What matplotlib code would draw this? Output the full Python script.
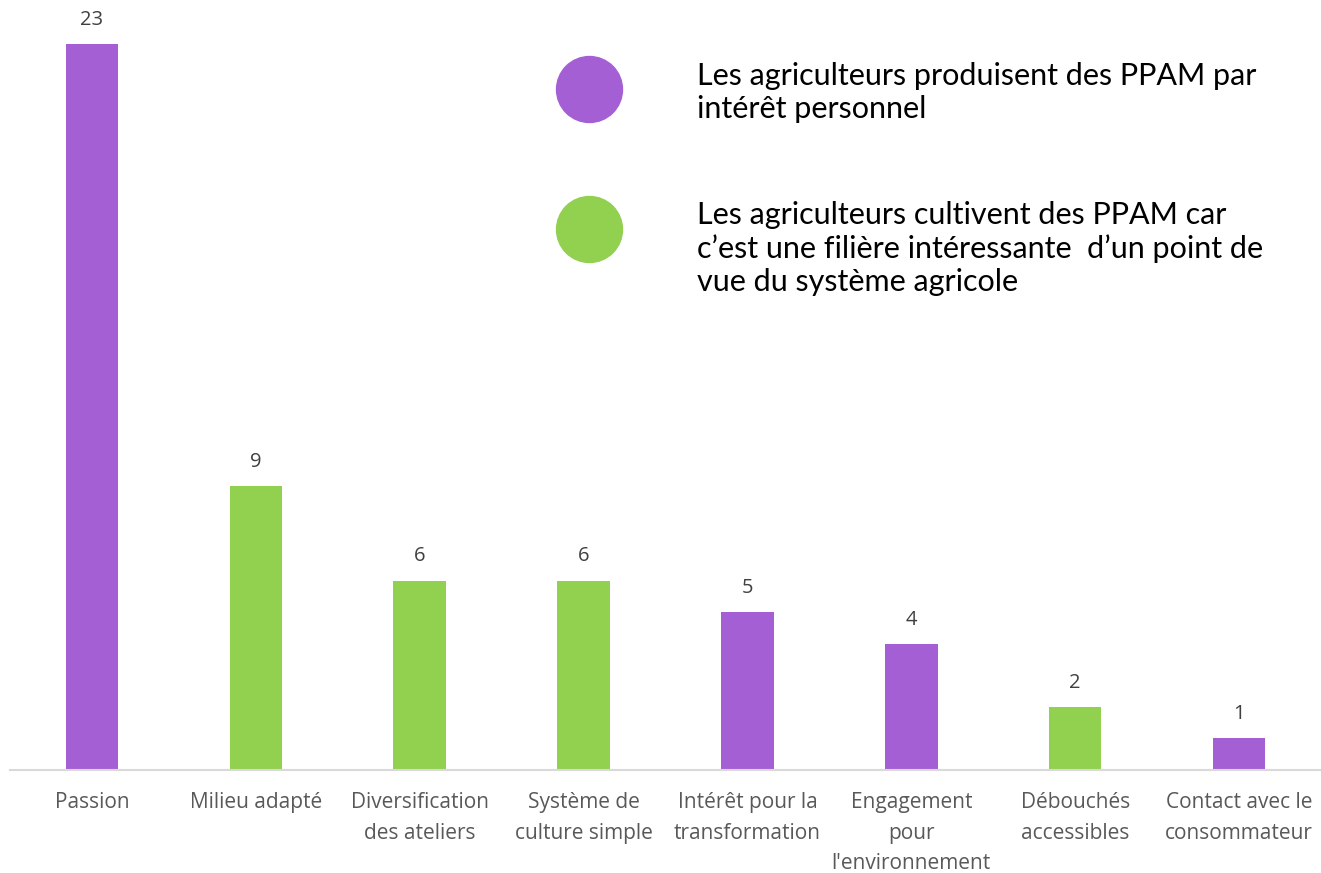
import matplotlib
matplotlib.use("Agg")
import matplotlib.pyplot as plt
from matplotlib.lines import Line2D

categories = ["Passion", "Milieu adapté", "Diversification\ndes ateliers", "Système de\nculture simple",
              "Intérêt pour la\ntransformation", "Engagement\npour\nl'environnement",
              "Débouchés\naccessibles", "Contact avec le\nconsommateur"]
values = [23, 9, 6, 6, 5, 4, 2, 1]
groups = ["perso", "systeme", "systeme", "systeme", "perso", "perso", "systeme", "perso"]
legend_labels = {
    "perso": "Les agriculteurs produisent des PPAM par\nintérêt personnel",
    "systeme": "Les agriculteurs cultivent des PPAM car\nc\u2019est une filière intéressante  d\u2019un point de\nvue du système agricole",
}
colors = {"perso": "#A45FD5", "systeme": "#92D050"}

W, H = 1321, 873
fig = plt.figure(figsize=(W / 100, H / 100), dpi=100)
ax = fig.add_axes([10 / W, (H - 770) / H, 1311 / W, 770 / H])

x = list(range(len(categories)))
ax.bar(x, values, width=0.32, color=[colors[g] for g in groups], zorder=2)
ax.set_xlim(-0.5, len(categories) - 0.5)
ax.set_ylim(0, 24.4)

for xi, v in zip(x, values):
    ax.text(xi, v + 0.45, str(v), ha="center", va="bottom", fontsize=14.5,
            color="#404040", family="Open Sans")

for s in ["top", "right", "left"]:
    ax.spines[s].set_visible(False)
ax.spines["bottom"].set_color("#D9D9D9")
ax.spines["bottom"].set_linewidth(1.5)
ax.set_yticks([])
ax.set_xticks(x)
ax.set_xticklabels(categories, fontsize=15, color="#595959", family="Open Sans", linespacing=1.6)
ax.tick_params(axis="x", length=0, pad=16)

# legend
leg_items = [("perso", 89), ("systeme", 229)]
for g, yc in leg_items:
    fy = 1 - yc / H
    fig.add_artist(Line2D([589 / W], [fy], marker="o", markersize=47.5, color=colors[g],
                          linestyle="none", transform=fig.transFigure))
fig.text(697 / W, 1 - 62 / H, legend_labels["perso"], ha="left", va="top", fontsize=22,
         family="Lato", color="#000000", linespacing=1.22)
fig.text(697 / W, 1 - 201 / H, legend_labels["systeme"], ha="left", va="top", fontsize=22,
         family="Lato", color="#000000", linespacing=1.22)

fig.savefig("out.png", dpi=100)
